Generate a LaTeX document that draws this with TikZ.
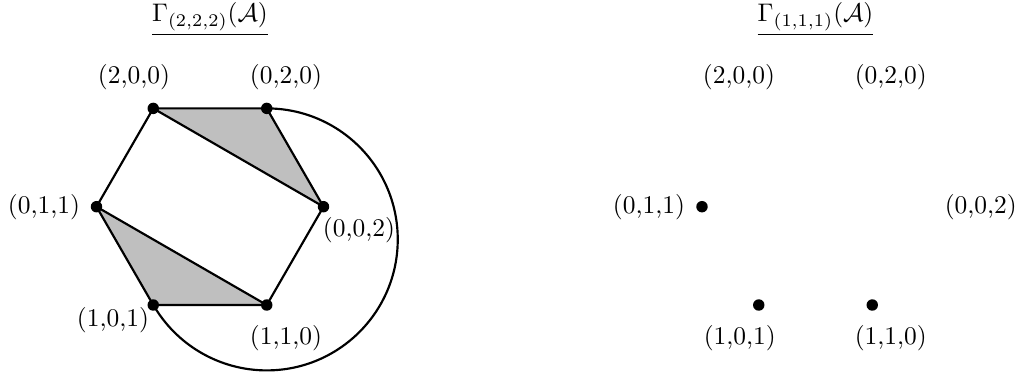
\documentclass[tikz,border=0pt]{standalone}
\usetikzlibrary{backgrounds}
\begin{document}
\begin{tikzpicture}[x=0.393pt,y=-0.393pt,
  dot/.style={circle,fill=black,inner sep=0pt,minimum size=4.5pt},
  lbl/.style={inner sep=0pt},
  edge/.style={line width=0.85pt},
  face/.style={fill=black!25}]
\useasboundingbox (0,0) rectangle (1021,377);
% titles
\node[lbl,anchor=base] (t1) at (210,21.7) {$\underline{\Gamma_{(2,2,2)}(\mathcal{A})}$};
\node[lbl,anchor=base] (t2) at (815.5,21.7) {$\underline{\Gamma_{(1,1,1)}(\mathcal{A})}$};
% left hexagon vertices
\node[dot] (a) at (153.25,108.4) {};
\node[dot] (b) at (266.75,108.4) {};
\node[dot] (c) at (323.5,206.7) {};
\node[dot] (d) at (266.75,305) {};
\node[dot] (e) at (153.25,305) {};
\node[dot] (f) at (96.5,206.7) {};
\node[lbl] (la) at (134,76.7) {(2,0,0)};
\node[lbl] (lb) at (286,76.7) {(0,2,0)};
\node[lbl] (lc) at (359,230) {(0,0,2)};
\node[lbl] (ld) at (286,338.3) {(1,1,0)};
\node[lbl] (le) at (113,320) {(1,0,1)};
\node[lbl] (lf) at (44,206.7) {(0,1,1)};
\begin{pgfonlayer}{background}
  \fill[face] (a.center) -- (b.center) -- (c.center) -- cycle;
  \fill[face] (f.center) -- (e.center) -- (d.center) -- cycle;
  \draw[edge] (a.center) -- (b.center) -- (c.center) -- (d.center) -- (e.center) -- (f.center) -- cycle;
  \draw[edge] (a.center) -- (c.center);
  \draw[edge] (f.center) -- (d.center);
  \draw[edge] (b.center) arc[start angle=-90,end angle=150.5,radius=131];
\end{pgfonlayer}
% right picture
\node[dot] (rf) at (702,206.7) {};
\node[dot] (re) at (758.75,305) {};
\node[dot] (rd) at (872.25,305) {};
\node[lbl] (rla) at (739,76.7) {(2,0,0)};
\node[lbl] (rlb) at (890.8,76.7) {(0,2,0)};
\node[lbl] (rlc) at (980.8,206.7) {(0,0,2)};
\node[lbl] (rld) at (890.8,338.3) {(1,1,0)};
\node[lbl] (rle) at (739.8,338.3) {(1,0,1)};
\node[lbl] (rlf) at (649,206.7) {(0,1,1)};
\end{tikzpicture}
\end{document}
